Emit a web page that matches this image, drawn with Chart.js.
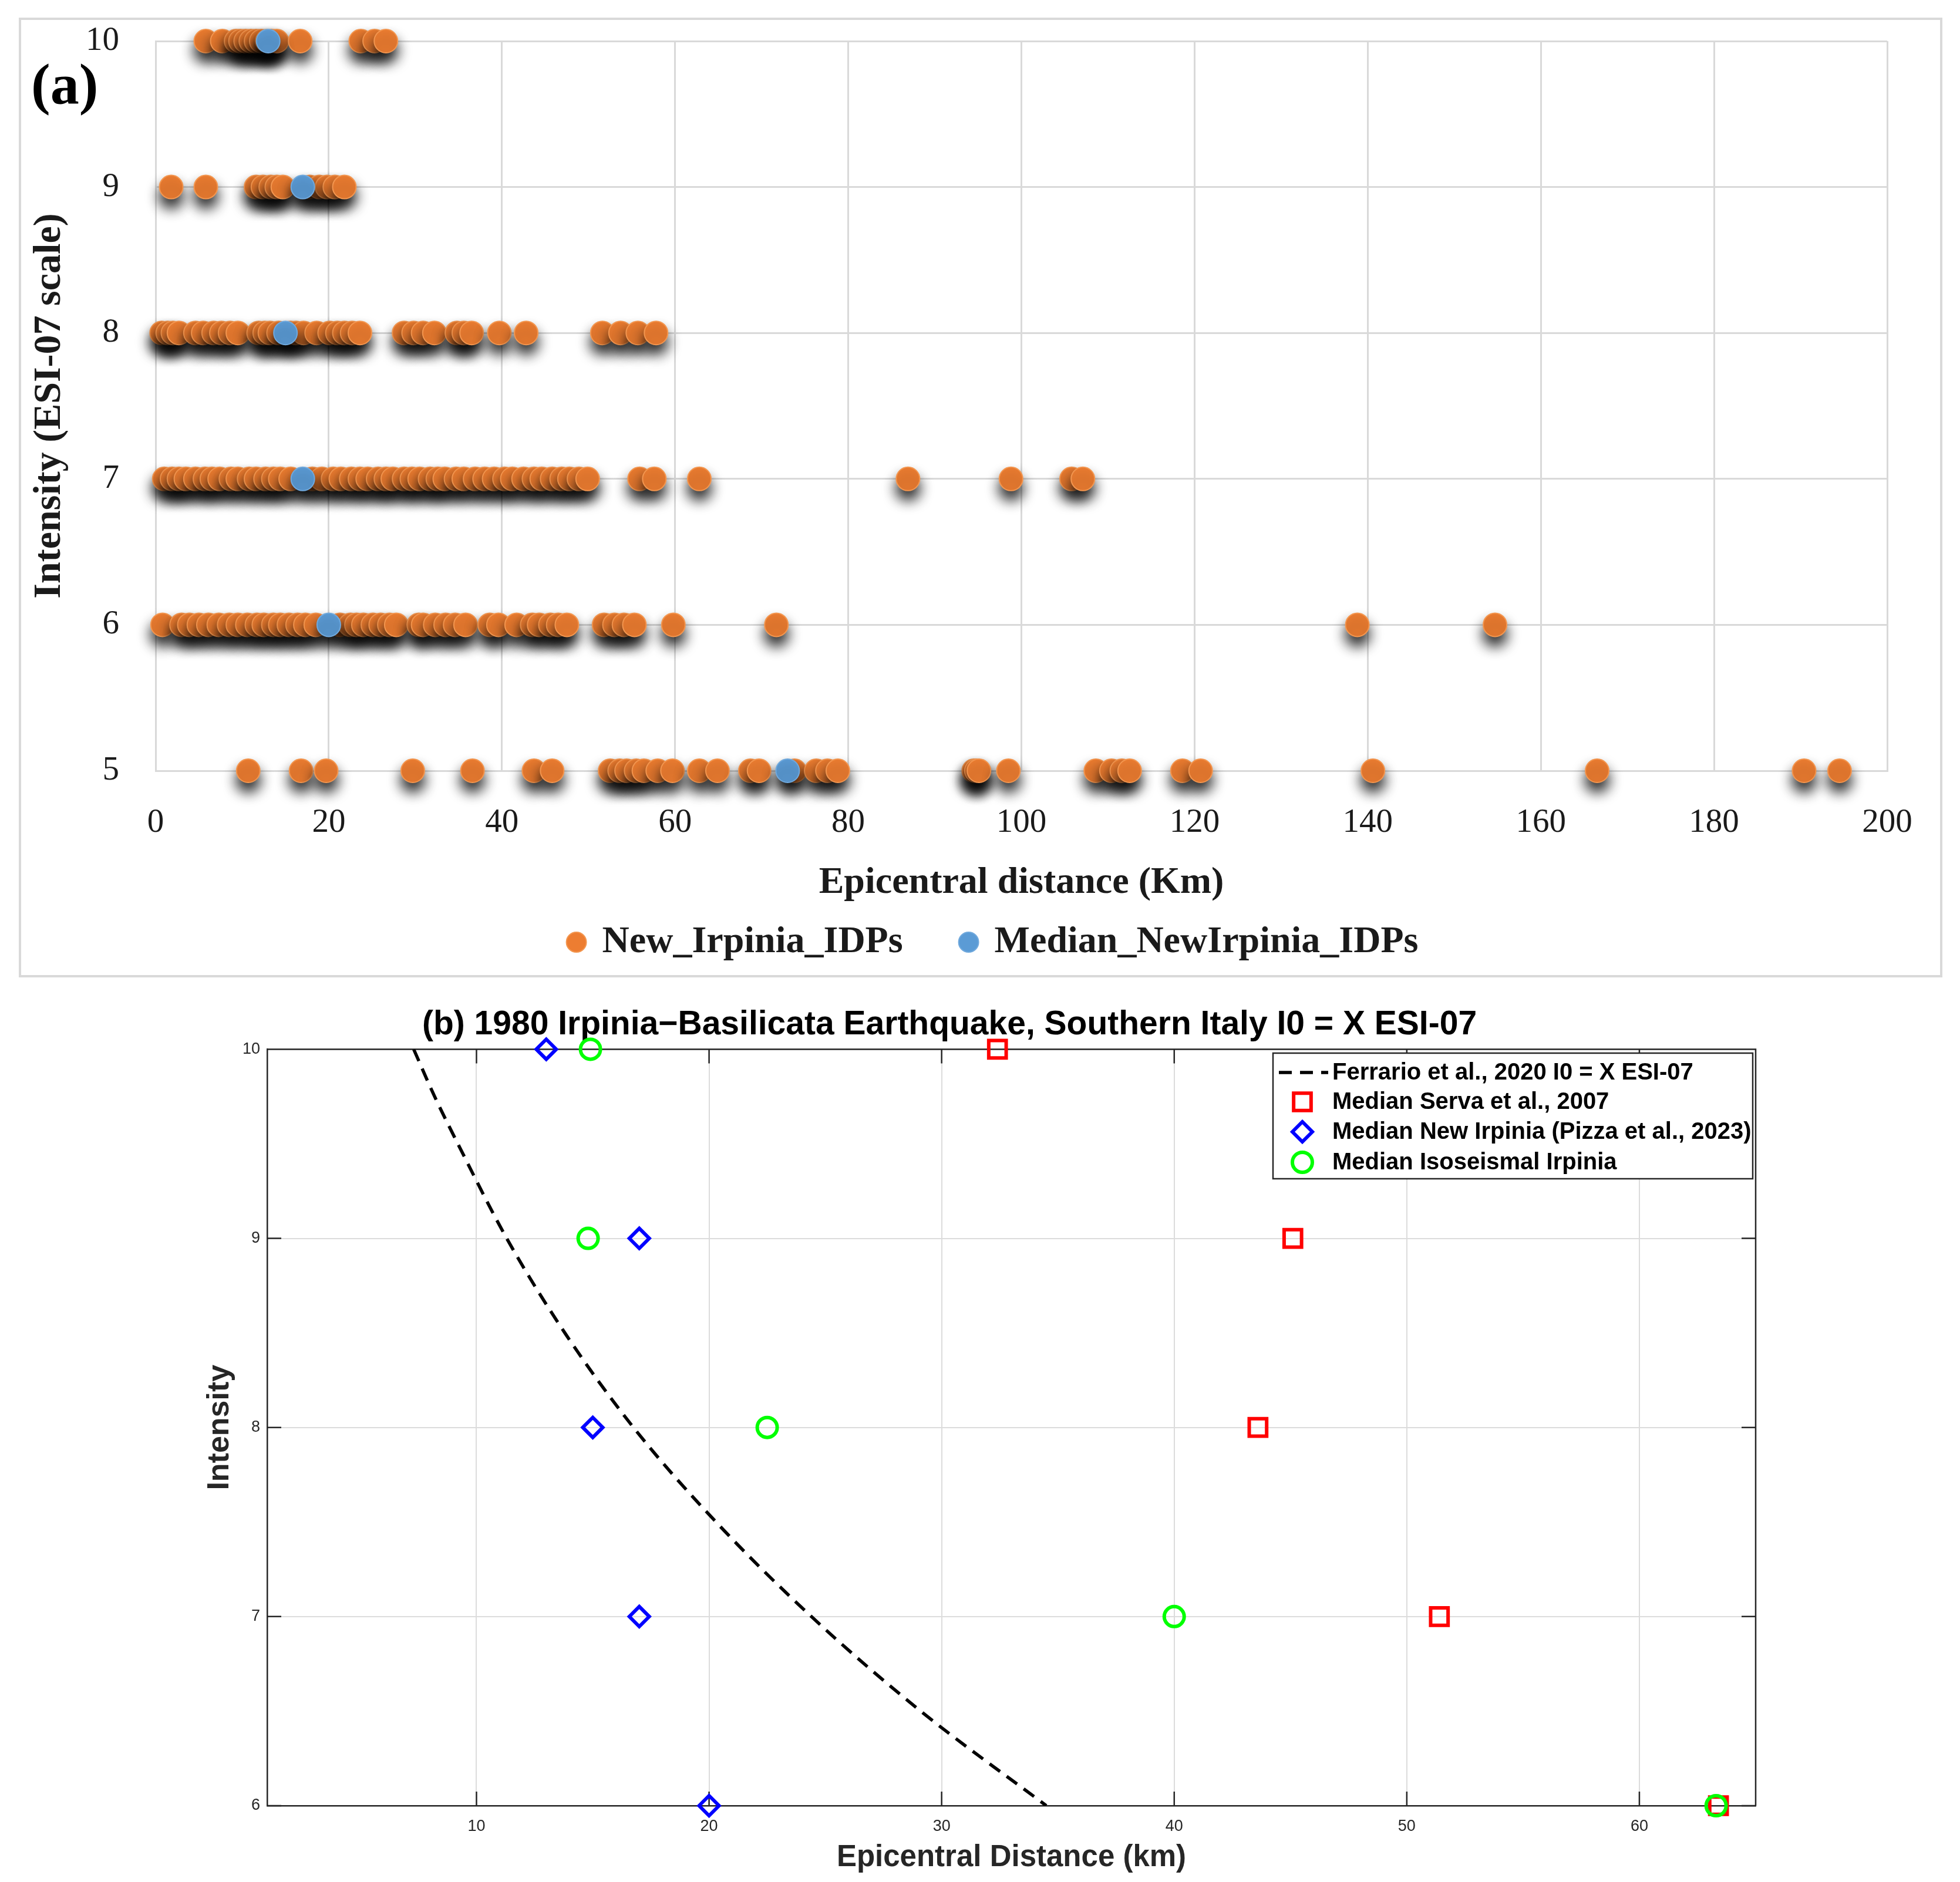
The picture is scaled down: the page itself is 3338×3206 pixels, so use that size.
<!DOCTYPE html>
<html>
<head>
<meta charset="utf-8">
<script src="https://cdn.jsdelivr.net/npm/chart.js@4.4.1/dist/chart.umd.min.js"></script>
<style>
html,body{margin:0;padding:0;background:#fff;}
body{width:3338px;height:3206px;position:relative;overflow:hidden;}
#frameA{position:absolute;left:32px;top:30px;width:3268px;height:1627px;border:4px solid #d9d9d9;}
#wrapA{position:absolute;left:0;top:0;width:3338px;height:1690px;}
#wrapB{position:absolute;left:0;top:1690px;width:3338px;height:1516px;}
#labelA{position:absolute;left:53px;top:94px;font:bold 98px "Liberation Serif";line-height:1;color:#000;}
</style>
</head>
<body>
<div id="frameA"></div>
<div id="wrapA"><canvas id="chartA"></canvas></div>
<div id="labelA">(a)</div>
<div id="wrapB"><canvas id="chartB"></canvas></div>
<script>
// ---------- Panel (a) data: epicentral distances (km) of IDPs per intensity ----------
const idpDist10 = [5.8, 7.7, 9.3, 9.8, 10.4, 11.0, 11.6, 12.2, 12.9, 13.4, 14.0, 16.7, 23.7, 25.3, 26.6];
const idpDist9  = [1.8, 5.8, 11.6, 12.4, 13.3, 14.0, 14.7, 17.8, 18.9, 19.8, 20.7, 21.8];
const idpDist8  = [0.7, 1.4, 2.0, 2.7, 4.6, 5.5, 6.7, 7.6, 8.6, 9.5, 11.9, 12.6, 13.2, 14.2, 15.6, 16.2, 17.1, 18.6,
                   20.1, 21.0, 21.8, 22.7, 23.6, 28.7, 29.8, 30.9, 32.2, 34.8, 35.6, 36.5, 39.7, 42.8, 51.6, 53.7, 55.7, 57.8];
const idpDist7  = [1.0, 1.9, 2.7, 3.5, 4.6, 5.7, 6.5, 7.4, 8.7, 9.5, 10.8, 11.6, 12.7, 13.6, 14.4, 15.6, 18.1, 19.2,
                   20.5, 21.4, 22.6, 23.6, 24.5, 25.7, 26.6, 27.4, 28.7, 29.6, 30.5, 31.7, 32.6, 33.4, 34.7, 35.6,
                   36.9, 38.0, 39.1, 40.3, 41.2, 42.5, 43.7, 44.6, 45.8, 46.9, 47.8, 48.9, 49.9,
                   55.9, 57.6, 62.8, 86.9, 98.8, 105.8, 107.1];
const idpDist6  = [0.8, 3.0, 3.9, 5.0, 6.1, 7.3, 8.5, 9.5, 10.6, 11.7, 12.5, 13.6, 14.4, 15.4, 16.4, 17.3, 18.5,
                   21.3, 22.5, 23.2, 24.0, 25.1, 26.0, 27.0, 27.8, 30.4, 30.9, 32.3, 33.5, 34.6, 35.8,
                   38.6, 39.6, 41.7, 43.5, 44.3, 45.6, 46.5, 47.5, 51.8, 53.0, 54.1, 55.3, 59.8, 71.7, 138.8, 154.7];
const idpDist5  = [10.7, 16.8, 19.7, 29.7, 36.6, 43.7, 45.8, 52.5, 53.6, 54.4, 55.5, 56.4, 58.0, 59.7, 62.8, 64.9,
                   68.7, 69.7, 73.8, 76.3, 77.6, 78.8, 94.5, 94.8, 95.1, 98.5, 108.6, 110.4, 111.6, 112.5,
                   118.6, 120.7, 140.6, 166.5, 190.4, 194.5];
const idpIntensity = [10, 9, 8, 7, 6, 5];
const medianDistA = [13, 17, 15, 17, 20, 73];
const medianIntA  = [10, 9, 8, 7, 6, 5];
const xTicksA = [0, 20, 40, 60, 80, 100, 120, 140, 160, 180, 200];
const yTicksA = [5, 6, 7, 8, 9, 10];

// ---------- Panel (b) data ----------
const ferrarioDist = [7.3, 8.2, 9.2, 11.3, 13.8, 16.75, 20.3, 24.4, 29.1, 34.5];
const ferrarioInt  = [10, 9.75, 9.5, 9.0, 8.5, 8.0, 7.5, 7.0, 6.5, 6.0];
const servaDist = [32.4, 45.1, 43.6, 51.4, 63.4];
const servaInt  = [10, 9, 8, 7, 6];
const pizzaDist = [13, 17, 15, 17, 20];
const pizzaInt  = [10, 9, 8, 7, 6];
const isoDist = [14.9, 14.8, 22.5, 40.0, 63.3];
const isoInt  = [10, 9, 8, 7, 6];
const xTicksB = [10, 20, 30, 40, 50, 60];
const yTicksB = [6, 7, 8, 9, 10];

const zip = (xs, ys) => xs.map((x, i) => ({x: x, y: ys[i]}));
const idpRows = [idpDist10, idpDist9, idpDist8, idpDist7, idpDist6, idpDist5];
const idpPoints = [];
idpRows.forEach((row, r) => row.forEach(d => idpPoints.push({x: d, y: idpIntensity[r]})));

const serifTxt = '#1a1a1a';

const shadowPlugin = {
  id: 'markerShadow',
  beforeDatasetsDraw(chart) {
    const c = chart.ctx; c.save();
    c.shadowColor = 'rgba(0,0,0,0.85)'; c.shadowBlur = 22; c.shadowOffsetX = 0; c.shadowOffsetY = 16;
  },
  afterDatasetsDraw(chart) { chart.ctx.restore(); }
};
const legendShiftPlugin = {
  id: 'legendShift',
  afterLayout(chart) {
    if (chart.legend) { chart.legend.left -= 47; chart.legend.right -= 47; }
  }
};

new Chart(document.getElementById('chartA'), {
  type: 'scatter',
  data: {
    datasets: [
      { label: 'New_Irpinia_IDPs', data: idpPoints, backgroundColor: '#ED7D31', borderColor: '#F3964F',
        borderWidth: 2, pointRadius: 20, pointHoverRadius: 20, order: 2, clip: false },
      { label: 'Median_NewIrpinia_IDPs', data: zip(medianDistA, medianIntA), backgroundColor: '#5B9BD5',
        borderColor: '#70A9DD', borderWidth: 2, pointRadius: 20, pointHoverRadius: 20, order: 1, clip: false }
    ]
  },
  options: {
    responsive: true, maintainAspectRatio: false, animation: false, devicePixelRatio: 1,
    layout: { padding: { left: 40, right: 124, top: 70, bottom: 43 } },
    plugins: {
      legend: {
        position: 'bottom', fullSize: false,
        labels: { usePointStyle: true, boxWidth: 24, boxHeight: 24, padding: 100, color: serifTxt,
                  sort: (a, b) => a.datasetIndex - b.datasetIndex,
                  font: { family: 'Liberation Serif', size: 64, weight: 'bold' } }
      },
      tooltip: { enabled: false }
    },
    scales: {
      x: {
        type: 'linear', min: 0, max: 200,
        afterBuildTicks: s => { s.ticks = xTicksA.map(v => ({value: v})); },
        afterFit: s => { s.height = 160; },
        grid: { color: '#d9d9d9', lineWidth: 3, drawTicks: false },
        border: { display: true, color: '#d9d9d9', width: 3 },
        ticks: { padding: 55, color: serifTxt, font: { family: 'Liberation Serif', size: 57 } },
        title: { display: true, text: 'Epicentral distance (Km)', color: serifTxt,
                 font: { family: 'Liberation Serif', size: 64, weight: 'bold' }, padding: { top: 0, bottom: -70 } }
      },
      y: {
        type: 'linear', min: 5, max: 10,
        afterBuildTicks: s => { s.ticks = yTicksA.map(v => ({value: v})); },
        afterFit: s => { s.width = 225; s.paddingTop = 0; s.paddingBottom = 0; },
        grid: { color: '#d9d9d9', lineWidth: 3, drawTicks: false },
        border: { display: true, color: '#d9d9d9', width: 3 },
        ticks: { padding: 62, color: serifTxt, font: { family: 'Liberation Serif', size: 57 } },
        title: { display: true, text: 'Intensity (ESI-07 scale)', color: serifTxt,
                 font: { family: 'Liberation Serif', size: 66, weight: 'bold' }, padding: { top: 5, bottom: 0 } }
      }
    }
  },
  plugins: [shadowPlugin, legendShiftPlugin]
});

// ---------- Panel (b) ----------
const axisCol = '#262626';
const sansFont = 'Liberation Sans';

function drawMarker(ctx, style, r, x, y) {
  ctx.beginPath();
  if (style === 'rect') {
    const s = r * Math.SQRT1_2; ctx.rect(x - s, y - s, 2 * s, 2 * s);
  } else if (style === 'rectRot') {
    ctx.moveTo(x - r, y); ctx.lineTo(x, y - r); ctx.lineTo(x + r, y); ctx.lineTo(x, y + r); ctx.closePath();
  } else {
    ctx.arc(x, y, r, 0, Math.PI * 2);
  }
  ctx.stroke();
}

const boxTicksPlugin = {
  id: 'boxTicks',
  beforeDatasetsDraw(chart) {
    const {ctx, chartArea: a, scales: {x, y}} = chart;
    ctx.save();
    ctx.strokeStyle = axisCol; ctx.lineWidth = 2.5;
    ctx.beginPath();
    ctx.moveTo(a.left, a.top); ctx.lineTo(a.right, a.top); ctx.lineTo(a.right, a.bottom);
    const tl = 24;
    x.ticks.forEach(t => {
      const px = x.getPixelForValue(t.value);
      ctx.moveTo(px, a.bottom); ctx.lineTo(px, a.bottom - tl);
      ctx.moveTo(px, a.top); ctx.lineTo(px, a.top + tl);
    });
    y.ticks.forEach(t => {
      const py = y.getPixelForValue(t.value);
      ctx.moveTo(a.left, py); ctx.lineTo(a.left + tl, py);
      ctx.moveTo(a.right, py); ctx.lineTo(a.right - tl, py);
    });
    ctx.stroke();
    ctx.restore();
  }
};

const legendBPlugin = {
  id: 'legendB',
  afterDraw(chart) {
    const ctx = chart.ctx;
    const bx = 2168, by = 104, bw = 817, bh = 214;
    const rows = [137, 187, 238, 290];
    ctx.save();
    ctx.fillStyle = '#fff'; ctx.fillRect(bx, by, bw, bh);
    ctx.strokeStyle = axisCol; ctx.lineWidth = 2.5; ctx.strokeRect(bx, by, bw, bh);
    ctx.font = 'bold 40px "' + sansFont + '"';
    ctx.textBaseline = 'middle'; ctx.textAlign = 'left';
    chart.data.datasets.forEach((ds, i) => {
      const yy = rows[i];
      ctx.save();
      if (ds.showLine) {
        ctx.strokeStyle = ds.borderColor; ctx.lineWidth = ds.borderWidth; ctx.setLineDash(ds.borderDash);
        ctx.beginPath(); ctx.moveTo(2178, yy); ctx.lineTo(2262, yy); ctx.stroke();
      } else {
        ctx.strokeStyle = ds.borderColor; ctx.lineWidth = ds.pointBorderWidth;
        drawMarker(ctx, ds.pointStyle, ds.pointRadius, 2218, yy);
      }
      ctx.restore();
      ctx.fillStyle = '#000';
      ctx.fillText(ds.label, 2269, yy + 1);
    });
    ctx.restore();
  }
};

new Chart(document.getElementById('chartB'), {
  type: 'scatter',
  data: {
    datasets: [
      { label: 'Ferrario et al., 2020 I0 = X ESI-07', data: zip(ferrarioDist, ferrarioInt), showLine: true,
        borderColor: '#000000', borderWidth: 5.5, borderDash: [22, 14], pointRadius: 0, pointHoverRadius: 0,
        cubicInterpolationMode: 'monotone', fill: false, order: 4 },
      { label: 'Median Serva et al., 2007', data: zip(servaDist, servaInt), pointStyle: 'rect', pointRadius: 21,
        pointHoverRadius: 21, borderColor: '#ff0000', backgroundColor: 'rgba(0,0,0,0)', pointBorderWidth: 6,
        order: 3, clip: false },
      { label: 'Median New Irpinia (Pizza et al., 2023)', data: zip(pizzaDist, pizzaInt), pointStyle: 'rectRot',
        pointRadius: 17, pointHoverRadius: 17, borderColor: '#0000ff', backgroundColor: 'rgba(0,0,0,0)',
        pointBorderWidth: 6, order: 2, clip: false },
      { label: 'Median Isoseismal Irpinia', data: zip(isoDist, isoInt), pointStyle: 'circle', pointRadius: 17,
        pointHoverRadius: 17, borderColor: '#00ff00', backgroundColor: 'rgba(0,0,0,0)', pointBorderWidth: 6,
        order: 1, clip: false }
    ]
  },
  options: {
    responsive: true, maintainAspectRatio: false, animation: false, devicePixelRatio: 1,
    layout: { padding: { left: 244, right: 348, top: 0, bottom: 0 } },
    plugins: {
      legend: { display: false },
      tooltip: { enabled: false },
      title: { display: true, text: '(b) 1980 Irpinia\u2212Basilicata Earthquake, Southern Italy I0 = X ESI-07',
               color: '#000', font: { family: sansFont, size: 57, weight: 'bold' },
               padding: { top: 22, bottom: 7 } }
    },
    scales: {
      x: {
        type: 'linear', min: 1, max: 65,
        afterBuildTicks: s => { s.ticks = xTicksB.map(v => ({value: v})); },
        afterFit: s => { s.height = 130; },
        grid: { color: '#dcdcdc', lineWidth: 2, drawTicks: false },
        border: { display: true, color: axisCol, width: 2.5 },
        ticks: { padding: 19, color: axisCol, font: { family: sansFont, size: 27 } },
        title: { display: true, text: 'Epicentral Distance (km)', color: axisCol,
                 font: { family: sansFont, size: 51, weight: 'bold' }, padding: { top: 0, bottom: 10 } }
      },
      y: {
        type: 'linear', min: 6, max: 10,
        afterBuildTicks: s => { s.ticks = yTicksB.map(v => ({value: v})); },
        afterFit: s => { s.width = 211; },
        grid: { color: '#dcdcdc', lineWidth: 2, drawTicks: false },
        border: { display: true, color: axisCol, width: 2.5 },
        ticks: { padding: 12, color: axisCol, font: { family: sansFont, size: 27 } },
        title: { display: true, text: 'Intensity', color: axisCol,
                 font: { family: sansFont, size: 52, weight: 'bold' }, padding: { top: 99, bottom: 0 } }
      }
    }
  },
  plugins: [boxTicksPlugin, legendBPlugin]
});
</script>
</body>
</html>
